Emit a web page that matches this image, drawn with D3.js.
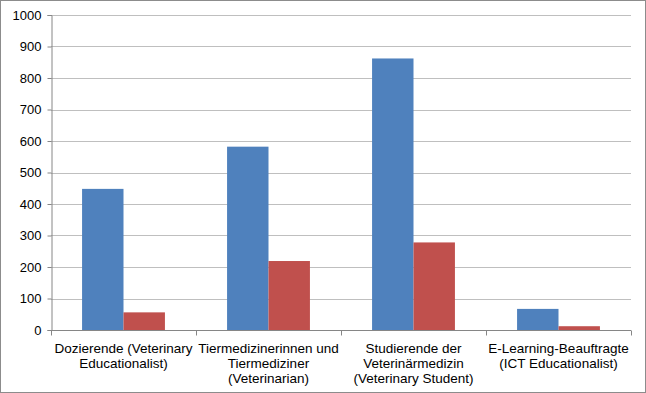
<!DOCTYPE html>
<html>
<head>
<meta charset="utf-8">
<script src="https://cdn.jsdelivr.net/npm/d3@7"></script>
<style>
    body { margin: 0; background: #fff; }
    svg { display: block; font-family: "Liberation Sans", Arial, sans-serif; }
</style>
</head>
<body>
<div id="chart"></div>
<script>
// grouped bar chart, two series per category

const categories = [
    ["Dozierende (Veterinary", "Educationalist)"],
    ["Tiermedizinerinnen und", "Tiermediziner", "(Veterinarian)"],
    ["Studierende der", "Veterinärmedizin", "(Veterinary Student)"],
    ["E-Learning-Beauftragte", "(ICT Educationalist)"]
];
const seriesBlue = [448, 582, 862, 67];
const seriesRed = [56, 219, 278, 12];
const yTicks = [0, 100, 200, 300, 400, 500, 600, 700, 800, 900, 1000];

const W = 646, H = 393;
const margin = { top: 15, right: 15, bottom: 63, left: 51 };

const svg = d3.select("#chart").append("svg")
    .attr("width", W)
    .attr("height", H);

// outer frame
svg.append("rect")
    .attr("x", 0.5).attr("y", 0.5)
    .attr("width", W - 1).attr("height", H - 1)
    .attr("fill", "#fff")
    .attr("stroke", "#8c8c8c");

const x = d3.scaleBand()
    .domain(d3.range(categories.length))
    .range([margin.left, W - margin.right]);

const inner = d3.scaleBand()
    .domain([0, 1])
    .range([0, x.bandwidth()])
    .paddingOuter(0.75)
    .paddingInner(0);

const y = d3.scaleLinear()
    .domain([0, 1000])
    .range([H - margin.bottom, margin.top]);

// gridlines
svg.append("g")
    .selectAll("line")
    .data(yTicks.slice(1))
    .enter().append("line")
    .attr("x1", margin.left)
    .attr("x2", W - margin.right)
    .attr("y1", d => Math.round(y(d)) + 0.5)
    .attr("y2", d => Math.round(y(d)) + 0.5)
    .attr("stroke", "#bfbfbf")
    .attr("stroke-width", 1);

// bars
const series = [seriesBlue, seriesRed];
const colors = ["#4f81bd", "#c0504d"];
series.forEach((vals, s) => {
    svg.append("g")
        .selectAll("rect")
        .data(vals)
        .enter().append("rect")
        .attr("x", (d, i) => x(i) + inner(s))
        .attr("y", d => y(d))
        .attr("width", inner.bandwidth())
        .attr("height", d => y(0) - y(d))
        .attr("fill", colors[s]);
});

// y axis
const yAxis = svg.append("g")
    .attr("transform", `translate(${margin.left + 0.5},0)`)
    .call(d3.axisLeft(y).tickValues(yTicks).tickSize(4).tickPadding(6).tickFormat(d3.format("d")));
yAxis.select(".domain").attr("stroke", "#868686");
yAxis.selectAll(".tick line").attr("stroke", "#868686");
yAxis.selectAll("text")
    .attr("fill", "#000")
    .style("font-size", "13px")
    .style("font-family", "Liberation Sans, Arial, sans-serif");

// x axis
const xAxisG = svg.append("g")
    .attr("transform", `translate(0,${Math.round(y(0)) + 0.5})`);
xAxisG.append("line")
    .attr("x1", margin.left).attr("x2", W - margin.right)
    .attr("stroke", "#868686");
xAxisG.selectAll(".tk")
    .data(d3.range(categories.length + 1))
    .enter().append("line")
    .attr("x1", i => Math.round(i < categories.length ? x(i) : x(i - 1) + x.bandwidth()) + 0.5)
    .attr("x2", i => Math.round(i < categories.length ? x(i) : x(i - 1) + x.bandwidth()) + 0.5)
    .attr("y1", 0).attr("y2", 5)
    .attr("stroke", "#868686");

const labels = svg.append("g");
categories.forEach((lines, i) => {
    const t = labels.append("text")
        .attr("x", x(i) + x.bandwidth() / 2)
        .attr("y", y(0) + 23)
        .attr("text-anchor", "middle")
        .style("font-size", "13.5px")
        .attr("fill", "#000");
    lines.forEach((ln, j) => {
        t.append("tspan")
            .attr("x", x(i) + x.bandwidth() / 2)
            .attr("dy", j === 0 ? 0 : 15)
            .text(ln);
    });
});
</script>
</body>
</html>
